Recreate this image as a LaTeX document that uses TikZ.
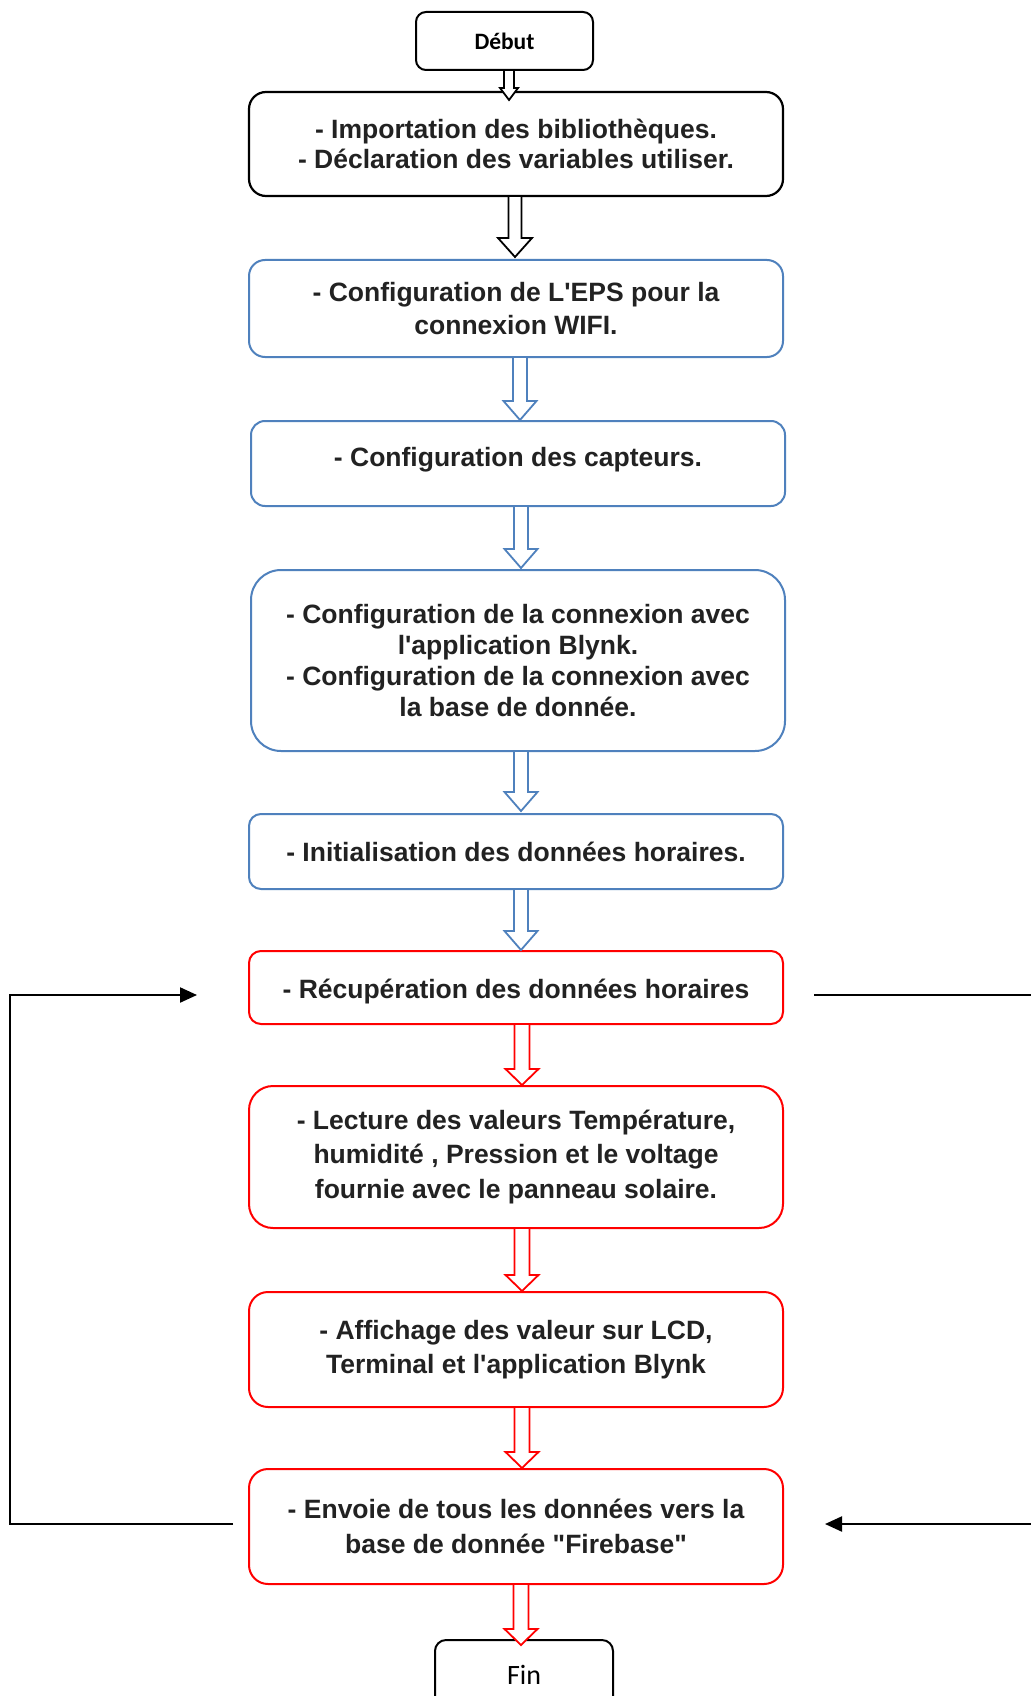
\documentclass[tikz,border=0pt]{standalone}
\usepackage{fontspec}
\setmainfont{Liberation Sans}
\newfontfamily\calibri{Carlito}
\usetikzlibrary{arrows.meta,calc}
\definecolor{txt}{HTML}{222222}
\definecolor{bxblue}{HTML}{4F81BD}
\definecolor{bxred}{HTML}{FF0000}
% #1 style, #2 from node, #3 to node, #4 x offset, #5 half shaft, #6 half head, #7 head length, #8 tip below to.north
\newcommand\blockarr[8]{%
  \draw[#1] let \p1=(#2.south), \p2=(#3.north) in
    ({\x1+(#4pt)-(#5pt)},\y1) -- ({\x1+(#4pt)-(#5pt)},{\y2-(#8pt)+(#7pt)})
    -- ({\x1+(#4pt)-(#6pt)},{\y2-(#8pt)+(#7pt)}) -- ({\x1+(#4pt)},{\y2-(#8pt)})
    -- ({\x1+(#4pt)+(#6pt)},{\y2-(#8pt)+(#7pt)}) -- ({\x1+(#4pt)+(#5pt)},{\y2-(#8pt)+(#7pt)})
    -- ({\x1+(#4pt)+(#5pt)},\y1) -- cycle;}
\begin{document}
\begin{tikzpicture}[x=1pt,y=-1pt,
  flowbox/.style={rectangle, rounded corners=#1, minimum width=534pt, inner sep=0pt, outer sep=0pt, align=center, text=txt},
  blackbox/.style={flowbox=#1, draw=black, line width=2.2pt},
  bluebox/.style={flowbox=#1, draw=bxblue, line width=2pt},
  redbox/.style={flowbox=#1, draw=bxred, line width=2pt},
  bodyfont/.style={font=\bfseries\fontsize{26.5}{#1}\selectfont},
  terminal/.style={rectangle, rounded corners=#1, draw=black, line width=2pt, minimum width=177pt, inner sep=0pt, outer sep=0pt, text=black},
  blkarrow/.style={draw=black, fill=white, line width=1.8pt, line join=miter},
  bluearrow/.style={draw=bxblue, fill=white, line width=1.8pt, line join=miter},
  redarrow/.style={draw=bxred, fill=white, line width=1.8pt, line join=miter},
  loopline/.style={draw=black, line width=2.2pt, line join=miter},
  looptip/.style={-{Triangle[length=17pt,width=15pt]}}
]
\fill[white] (0,0) rectangle (1030,1696);
\useasboundingbox (0,0) rectangle (1030,1696);

\node[terminal=10pt, minimum height=58pt, font=\calibri\bfseries\fontsize{23.5}{26}\selectfont] (debut) at (504.5,41) {Début};
\node[blackbox=17pt, minimum height=104pt, bodyfont=30.3] (b1) at (516,144)
  {- Importation des bibliothèques.\\- Déclaration des variables utiliser.};
\node[bluebox=16pt, minimum height=97pt, bodyfont=33.5] (b2) at (516,308.5)
  {- Configuration de L\textquotesingle EPS pour la\\connexion WIFI.};
\node[bluebox=14pt, minimum height=85pt, bodyfont=30.5, text height=19.5pt, text depth=14pt] (b3) at (518,463.5)
  {- Configuration des capteurs.};
\node[bluebox=30pt, minimum height=181pt, bodyfont=30.8] (b4) at (518,660.5)
  {- Configuration de la connexion avec\\l\textquotesingle application Blynk.\\- Configuration de la connexion avec\\la base de donnée.};
\node[bluebox=12pt, minimum height=75pt, bodyfont=30.5] (b5) at (516,851.5)
  {- Initialisation des données horaires.};
\node[redbox=12pt, minimum height=73pt, bodyfont=30.5, text height=28pt, text depth=5.6pt] (b6) at (516,987.5)
  {- Récupération des données horaires};
\node[redbox=24pt, minimum height=142pt, bodyfont=34.6] (b7) at (516,1157)
  {- Lecture des valeurs Température,\\humidité , Pression et le voltage\\fournie avec le panneau solaire.};
\node[redbox=19pt, minimum height=115pt, bodyfont=34.6] (b8) at (516,1349.5)
  {- Affichage des valeur sur LCD,\\Terminal et l\textquotesingle application Blynk};
\node[redbox=19pt, minimum height=115pt, bodyfont=34.6] (b9) at (516,1526.5)
  {- Envoie de tous les données vers la\\base de donnée \textquotedbl Firebase\textquotedbl};
\node[terminal=11pt, minimum width=178pt, minimum height=70pt, font=\calibri\fontsize{28}{30}\selectfont] (fin) at (524,1675) {Fin};

\blockarr{blkarrow}{debut}{b1}{4.5}{5}{9}{12}{8}
\blockarr{blkarrow}{b1}{b2}{-1}{6.5}{17}{19}{-3}
\blockarr{bluearrow}{b2}{b3}{4}{7}{16.5}{19}{-1}
\blockarr{bluearrow}{b3}{b4}{3}{7}{16.5}{19}{-2}
\blockarr{bluearrow}{b4}{b5}{3}{7}{16.5}{19}{-3}
\blockarr{bluearrow}{b5}{b6}{5}{7}{16.5}{19}{-1}
\blockarr{redarrow}{b6}{b7}{6}{7.5}{16.5}{16}{-1}
\blockarr{redarrow}{b7}{b8}{6}{7.5}{16.5}{16}{-1}
\blockarr{redarrow}{b8}{b9}{6}{7.5}{16.5}{16}{-1}
\blockarr{redarrow}{b9}{fin}{5}{7.5}{16.5}{16}{5}

\coordinate (lt) at (197,995);
\coordinate (lcorner) at (10,995);
\coordinate (lb) at (233,1524);
\coordinate (rt) at (814,995);
\coordinate (rtend) at (1040,995);
\coordinate (rb) at (1040,1524);
\coordinate (rtip) at (825,1524);
\draw[loopline, looptip] (lb) -| (lcorner) -- (lt);
\draw[loopline] (rt) -- (rtend);
\draw[loopline, looptip] (rb) -- (rtip);
\end{tikzpicture}
\end{document}
